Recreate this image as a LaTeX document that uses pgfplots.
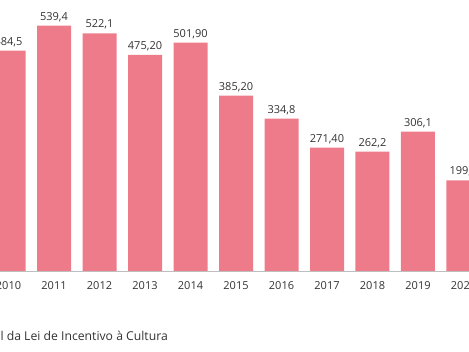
\documentclass[border=0pt]{standalone}
\usepackage{pgfplots}
\pgfplotsset{compat=1.18}
\usepackage{pgfplotstable}
\usepackage{fontspec}
\setmainfont{Open Sans}
\definecolor{barpink}{RGB}{238,123,138}
\definecolor{txt}{RGB}{51,51,51}
\definecolor{gridc}{RGB}{222,222,222}
\definecolor{axc}{RGB}{190,190,190}
\pgfplotstableread{
year value label
2010 484.5 484,5
2011 539.4 539,4
2012 522.1 522,1
2013 475.20 475,20
2014 501.90 501,90
2015 385.20 385,20
2016 334.8 334,8
2017 271.40 271,40
2018 262.2 262,2
2019 306.1 306,1
2020 199.2 199,2
}\datatable
\begin{document}
\begin{tikzpicture}
\useasboundingbox (0,0) rectangle (469pt,352pt);
\clip (0,0) rectangle (469pt,352pt);
\begin{axis}[
  at={(0pt,81pt)}, anchor=south west,
  scale only axis, width=469pt, height=271pt,
  xmin=2009.813, xmax=2020.121,
  ymin=0, ymax=595.6,
  axis x line*=bottom, axis y line=none,
  x axis line style={draw=axc, line width=0.8pt, -},
  ytick={200,400}, ymajorgrids,
  grid style={draw=gridc, line width=0.6pt},
  yticklabels={},
  xtick=data, major tick length=0pt,
  xticklabel style={font=\fontsize{11}{13}\selectfont, text=txt, yshift=-6.5pt},
  /pgf/number format/assume math mode=true,
  xticklabel={\pgfmathprintnumber[1000 sep={}]{\tick}},
  ybar, bar width=34pt,
  nodes near coords,
  point meta=explicit symbolic,
  every node near coord/.append style={font=\fontsize{11}{13}\selectfont, text=txt, yshift=0.5pt},
  clip=false,
]
\addplot[fill=barpink, draw=none] table[x=year, y=value, meta=label] {\datatable};
\end{axis}
\node[anchor=base east, inner sep=0pt, font=\fontsize{12.2}{14}\selectfont, text=txt] at (168pt,11.3pt) {Fonte: Portal da Lei de Incentivo à Cultura};
\end{tikzpicture}
\end{document}
